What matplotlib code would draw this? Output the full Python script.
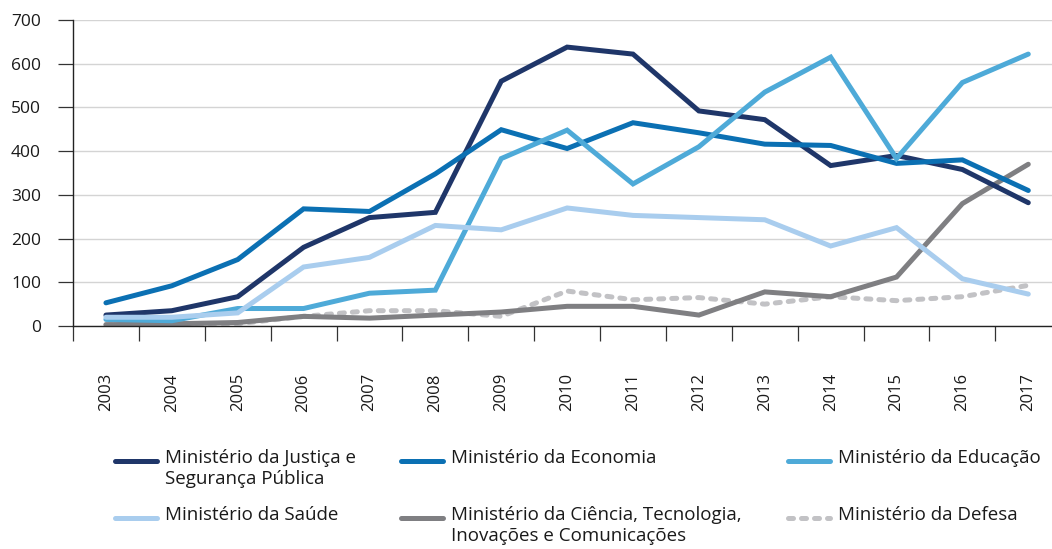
import matplotlib
matplotlib.use("Agg")
import matplotlib.pyplot as plt
from matplotlib.lines import Line2D
import numpy as np

plt.rcParams['font.family'] = ['Open Sans', 'DejaVu Sans']

years = ["2003", "2004", "2005", "2006", "2007", "2008", "2009", "2010",
         "2011", "2012", "2013", "2014", "2015", "2016", "2017"]

justica = [25, 35, 67, 180, 248, 260, 560, 638, 622, 492, 472, 367, 390, 358, 282]
economia = [53, 92, 152, 268, 262, 348, 449, 406, 465, 442, 416, 413, 372, 380, 310]
educacao = [15, 12, 40, 40, 75, 82, 383, 448, 325, 410, 535, 615, 383, 557, 622]
saude = [20, 20, 30, 135, 157, 230, 220, 270, 253, 248, 243, 183, 225, 108, 73]
ciencia = [3, 5, 8, 22, 18, 25, 32, 45, 45, 25, 78, 67, 112, 280, 370]
defesa = [3, 5, 5, 22, 35, 35, 22, 80, 60, 65, 50, 67, 58, 67, 93]

labels = ["Ministério da Justiça e\nSegurança Pública",
          "Ministério da Economia",
          "Ministério da Educação",
          "Ministério da Saúde",
          "Ministério da Ciência, Tecnologia,\nInovações e Comunicações",
          "Ministério da Defesa"]

yticks = [0, 100, 200, 300, 400, 500, 600, 700]

series = [justica, economia, educacao, saude, ciencia, defesa]
colors = ["#1f3669", "#0b70b3", "#4eaad8", "#a9cdee", "#7f7f82", "#c2c2c5"]

W, H = 1052, 549
fig = plt.figure(figsize=(W / 100, H / 100), dpi=100)
ax = fig.add_axes([73 / W, 1 - 326 / H, 1 - 73 / W, (326 - 20) / H])

x = np.arange(len(years))
lw = 3.6
dash = (0, (1.0, 1.6))
handles = []
for s, c, lab in zip(series, colors, labels):
    if s is defesa:
        ln, = ax.plot(x, s, color=c, lw=lw, linestyle=dash,
                      dash_capstyle='round', zorder=2)
    else:
        ln, = ax.plot(x, s, color=c, lw=lw, solid_capstyle='round',
                      solid_joinstyle='miter', zorder=3)
    handles.append(ln)

handles[5].set_zorder(2)
handles[4].set_zorder(2.5)

ax.set_xlim(-0.5, 14.36)
ax.set_ylim(0, 700)
ax.set_yticks(yticks)
ax.set_yticklabels([str(v) for v in yticks], fontsize=12.5, color="#1a1a1a")
ax.grid(axis='y', color="#d4d4d4", lw=1.0, zorder=0)
ax.set_axisbelow(True)

ax.set_xticks(np.arange(len(years)) - 0.5)
ax.set_xticklabels([])
ax.set_xticks(x, minor=True)
ax.set_xticklabels(years, minor=True, rotation=90, fontsize=12, color="#1a1a1a")
ax.tick_params(axis='x', which='major', length=11, width=0.9, color="#333333", direction='out')
ax.tick_params(axis='x', which='minor', length=0, pad=34)
ax.tick_params(axis='y', length=11, width=0.9, color="#333333", pad=12)

for sp in ['top', 'right']:
    ax.spines[sp].set_visible(False)
for sp in ['left', 'bottom']:
    ax.spines[sp].set_color("#222222")
    ax.spines[sp].set_linewidth(1.0)

# legend (manual layout)
pos = [(115, 461), (401, 461), (788, 461), (115, 518), (401, 518), (788, 518)]
for (px, py), h, lab in zip(pos, handles, labels):
    yf = 1 - py / H
    line = Line2D([px / W, (px + 42) / W], [yf, yf], transform=fig.transFigure,
                  color=h.get_color(), lw=lw, solid_capstyle='round',
                  dash_capstyle='round')
    if h is handles[5]:
        line.set_linestyle(dash)
    fig.add_artist(line)
    fig.text((px + 50) / W, 1 - (py - 12) / H, lab, fontsize=13.5, va='top', ha='left',
             color="#1a1a1a", linespacing=1.22)

fig.savefig("out.png", dpi=100)
